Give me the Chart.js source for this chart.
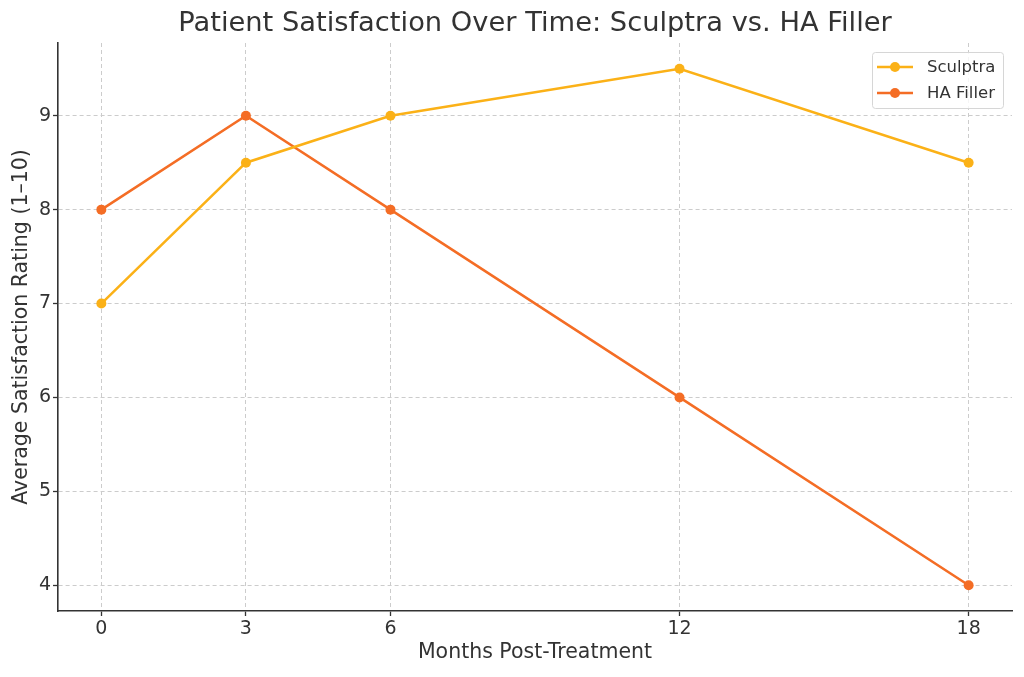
<!DOCTYPE html>
<html>
<head>
<meta charset="utf-8">
<script src="https://cdn.jsdelivr.net/npm/chart.js@4.4.1/dist/chart.umd.min.js"></script>
<style>
  html, body { margin: 0; padding: 0; background: #fff; }
  #wrap { width: 1024px; height: 677px; }
</style>
</head>
<body>
<div id="wrap"><canvas id="satChart" width="1024" height="677"></canvas></div>
<script>
const months = [0, 3, 6, 12, 18];
const sculptra = [7, 8.5, 9, 9.5, 8.5];
const haFiller = [8, 9, 8, 6, 4];
const xTicks = [0, 3, 6, 12, 18];
const yTicks = [4, 5, 6, 7, 8, 9];

const FONT = "'DejaVu Sans', sans-serif";
const textColor = '#333333';
const gridColor = '#cccccc';

// title centred over the plot area, like matplotlib
const titlePlugin = {
    id: 'plotTitle',
    afterDraw(chart) {
        const { ctx, chartArea } = chart;
        ctx.save();
        ctx.font = '27.3px ' + FONT;
        ctx.fillStyle = textColor;
        ctx.textAlign = 'center';
        ctx.textBaseline = 'middle';
        ctx.fillText('Patient Satisfaction Over Time: Sculptra vs. HA Filler', (chartArea.left + chartArea.right) / 2, 24);
        ctx.restore();
    }
};

// legend box inside the upper right corner
const innerLegend = {
    id: 'innerLegend',
    afterDraw(chart) {
        const { ctx, chartArea } = chart;
        const sets = chart.data.datasets;
        const boxW = 131, rowH = 26;
        const boxH = 56;
        const x0 = chartArea.right - boxW - 9;
        const y0 = chartArea.top + 9;
        ctx.save();
        ctx.fillStyle = 'rgba(255,255,255,0.8)';
        ctx.strokeStyle = '#d6d6d6';
        ctx.lineWidth = 1;
        ctx.beginPath();
        ctx.roundRect(x0 + 0.5, y0 + 0.5, boxW, boxH, 3);
        ctx.fill();
        ctx.stroke();
        ctx.font = '16.5px ' + FONT;
        ctx.textBaseline = 'middle';
        sets.forEach((ds, i) => {
            const cy = y0 + 15 + rowH * i;
            ctx.strokeStyle = ds.borderColor;
            ctx.lineWidth = 2.5;
            ctx.beginPath();
            ctx.moveTo(x0 + 5, cy);
            ctx.lineTo(x0 + 41, cy);
            ctx.stroke();
            ctx.fillStyle = ds.pointBackgroundColor;
            ctx.beginPath();
            ctx.arc(x0 + 23, cy, 5, 0, Math.PI * 2);
            ctx.fill();
            ctx.fillStyle = textColor;
            ctx.fillText(ds.label, x0 + 55, cy + 1);
        });
        ctx.restore();
    }
};

function toPoints(xs, ys) {
    return xs.map((x, i) => ({ x: x, y: ys[i] }));
}

const ctx = document.getElementById('satChart').getContext('2d');
window.satChart = new Chart(ctx, {
    type: 'line',
    data: {
        datasets: [
            {
                label: 'Sculptra',
                data: toPoints(months, sculptra),
                borderColor: '#FBB117',
                backgroundColor: '#FBB117',
                pointBackgroundColor: '#FBB117',
                pointBorderWidth: 0,
                pointRadius: 5,
                borderWidth: 2.5,
                tension: 0
            },
            {
                label: 'HA Filler',
                data: toPoints(months, haFiller),
                borderColor: '#F46D25',
                backgroundColor: '#F46D25',
                pointBackgroundColor: '#F46D25',
                pointBorderWidth: 0,
                pointRadius: 5,
                borderWidth: 2.5,
                tension: 0
            }
        ]
    },
    options: {
        responsive: false,
        animation: false,
        devicePixelRatio: 1,
        layout: { padding: { top: 43, right: 12, bottom: 0, left: 0 } },
        plugins: {
            legend: { display: false },
            title: { display: false },
            tooltip: { enabled: false }
        },
        scales: {
            x: {
                type: 'linear',
                min: -0.9,
                max: 18.9,
                afterBuildTicks(scale) { scale.ticks = xTicks.map(v => ({ value: v })); },
                afterFit(scale) { scale.height = 66; },
                grid: {
                    color: gridColor,
                    lineWidth: 1,
                    drawTicks: true,
                    tickLength: 5,
                    tickColor: textColor,
                    tickWidth: 1.3
                },
                border: { display: true, color: textColor, width: 1.6, dash: [4, 3] },
                ticks: { color: textColor, font: { family: FONT, size: 19 }, padding: 2, maxRotation: 0 },
                title: {
                    display: true,
                    text: 'Months Post-Treatment',
                    color: textColor,
                    font: { family: FONT, size: 20.5 },
                    padding: { top: 0, bottom: 12 }
                }
            },
            y: {
                type: 'linear',
                min: 3.725,
                max: 9.775,
                afterBuildTicks(scale) { scale.ticks = yTicks.map(v => ({ value: v })); },
                afterFit(scale) { scale.width = 58; },
                grid: {
                    color: gridColor,
                    lineWidth: 1,
                    drawTicks: true,
                    tickLength: 5,
                    tickColor: textColor,
                    tickWidth: 1.3
                },
                border: { display: true, color: textColor, width: 1.6, dash: [4, 3] },
                ticks: { color: textColor, font: { family: FONT, size: 19 }, padding: 2 },
                title: {
                    display: true,
                    text: 'Average Satisfaction Rating (1–10)',
                    color: textColor,
                    font: { family: FONT, size: 20.5 },
                    padding: { top: 9, bottom: 0 }
                }
            }
        }
    },
    plugins: [titlePlugin, innerLegend]
});
</script>
</body>
</html>
